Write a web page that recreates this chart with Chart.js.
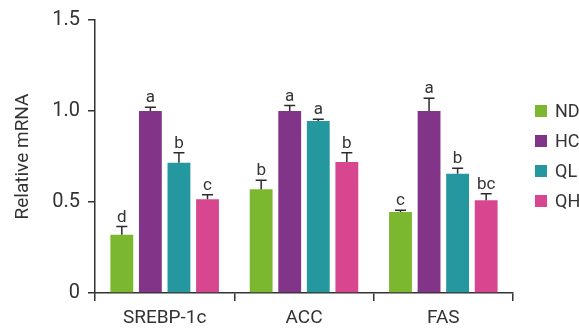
<!DOCTYPE html>
<html>
<head>
<meta charset="utf-8">
<script src="https://cdn.jsdelivr.net/npm/chart.js@4"></script>
<style>
  html, body { margin: 0; padding: 0; background: #fff; }
  #wrap { width: 579px; height: 330px; }
</style>
</head>
<body>
<div id="wrap"><canvas id="myChart" width="579" height="330"></canvas></div>
<script>
const categories = ['SREBP-1c', 'ACC', 'FAS'];
const groups = ['ND', 'HC', 'QL', 'QH'];
const groupColors = ['#7cb82f', '#823489', '#25979f', '#d94690'];

const ndValues = [0.32, 0.57, 0.445];
const hcValues = [1.0, 1.0, 1.0];
const qlValues = [0.715, 0.945, 0.655];
const qhValues = [0.515, 0.72, 0.51];

const ndErrors = [0.045, 0.05, 0.01];
const hcErrors = [0.02, 0.03, 0.07];
const qlErrors = [0.055, 0.01, 0.03];
const qhErrors = [0.025, 0.05, 0.035];

const ndLetters = ['d', 'b', 'c'];
const hcLetters = ['a', 'a', 'a'];
const qlLetters = ['b', 'a', 'b'];
const qhLetters = ['c', 'b', 'bc'];

const yTicks = [0, 0.5, 1.0, 1.5];

const allValues = [ndValues, hcValues, qlValues, qhValues];
const allErrors = [ndErrors, hcErrors, qlErrors, qhErrors];
const allLetters = [ndLetters, hcLetters, qlLetters, qhLetters];

const FONT = 'Roboto, "Liberation Sans", sans-serif';
const TEXT = '#333333';

// error bars (upper only) and significance letters
const errorBarPlugin = {
    id: 'errorBars',
    afterDatasetsDraw(chart) {
        const ctx = chart.ctx;
        const y = chart.scales.y;
        chart.data.datasets.forEach((ds, di) => {
            const meta = chart.getDatasetMeta(di);
            meta.data.forEach((bar, i) => {
                const top = y.getPixelForValue(ds.data[i] + ds.errors[i]);
                ctx.save();
                ctx.strokeStyle = '#2b2b2b';
                ctx.lineWidth = 1.5;
                ctx.beginPath();
                ctx.moveTo(bar.x, bar.y);
                ctx.lineTo(bar.x, top);
                ctx.moveTo(bar.x - 5.5, top);
                ctx.lineTo(bar.x + 5.5, top);
                ctx.stroke();
                ctx.fillStyle = TEXT;
                ctx.font = '17px ' + FONT;
                ctx.textAlign = 'center';
                ctx.textBaseline = 'alphabetic';
                ctx.fillText(ds.letters[i], bar.x, top - 5);
                ctx.restore();
            });
        });
    }
};

// legend on the right, drawn by hand
const sideLegend = {
    id: 'sideLegend',
    afterDraw(chart) {
        const ctx = chart.ctx;
        ctx.save();
        ctx.font = '18px ' + FONT;
        ctx.textBaseline = 'middle';
        ctx.textAlign = 'left';
        chart.data.datasets.forEach((ds, i) => {
            const cy = 111 + i * 30;
            ctx.fillStyle = ds.backgroundColor;
            ctx.fillRect(535, cy - 6, 12, 12);
            ctx.fillStyle = TEXT;
            ctx.fillText(ds.label, 555, cy + 1);
        });
        ctx.restore();
    }
};

const datasets = groups.map((g, k) => ({
    label: g,
    data: allValues[k],
    errors: allErrors[k],
    letters: allLetters[k],
    backgroundColor: groupColors[k],
    barPercentage: 0.8,
    categoryPercentage: 0.82
}));

new Chart(document.getElementById('myChart'), {
    type: 'bar',
    data: { labels: categories, datasets: datasets },
    plugins: [errorBarPlugin, sideLegend],
    options: {
        responsive: false,
        animation: false,
        layout: { padding: { top: 19, right: 66, left: 12, bottom: 0 } },
        plugins: {
            legend: { display: false },
            tooltip: { enabled: false }
        },
        scales: {
            x: {
                offset: true,
                grid: { offset: true, drawOnChartArea: false, tickLength: 8, color: '#333', lineWidth: 1.5 },
                border: { color: '#333', width: 1.5 },
                ticks: { color: TEXT, font: { family: FONT, size: 19 }, padding: 6 },
                afterFit(scale) { scale.height = 37; }
            },
            y: {
                min: 0,
                max: 1.5,
                afterBuildTicks(scale) { scale.ticks = yTicks.map(v => ({ value: v })); },
                grid: { drawOnChartArea: false, tickLength: 7, color: '#333', lineWidth: 1.5 },
                border: { color: '#333', width: 1.5 },
                ticks: {
                    color: TEXT,
                    font: { family: FONT, size: 20 },
                    padding: 8,
                    callback: v => v === 0 ? '0' : v.toFixed(1)
                },
                title: {
                    display: true,
                    text: 'Relative mRNA',
                    color: TEXT,
                    font: { family: FONT, size: 19 },
                    padding: { top: 0, bottom: 8 }
                },
                afterFit(scale) { scale.width = 83; }
            }
        }
    }
});
</script>
</body>
</html>
